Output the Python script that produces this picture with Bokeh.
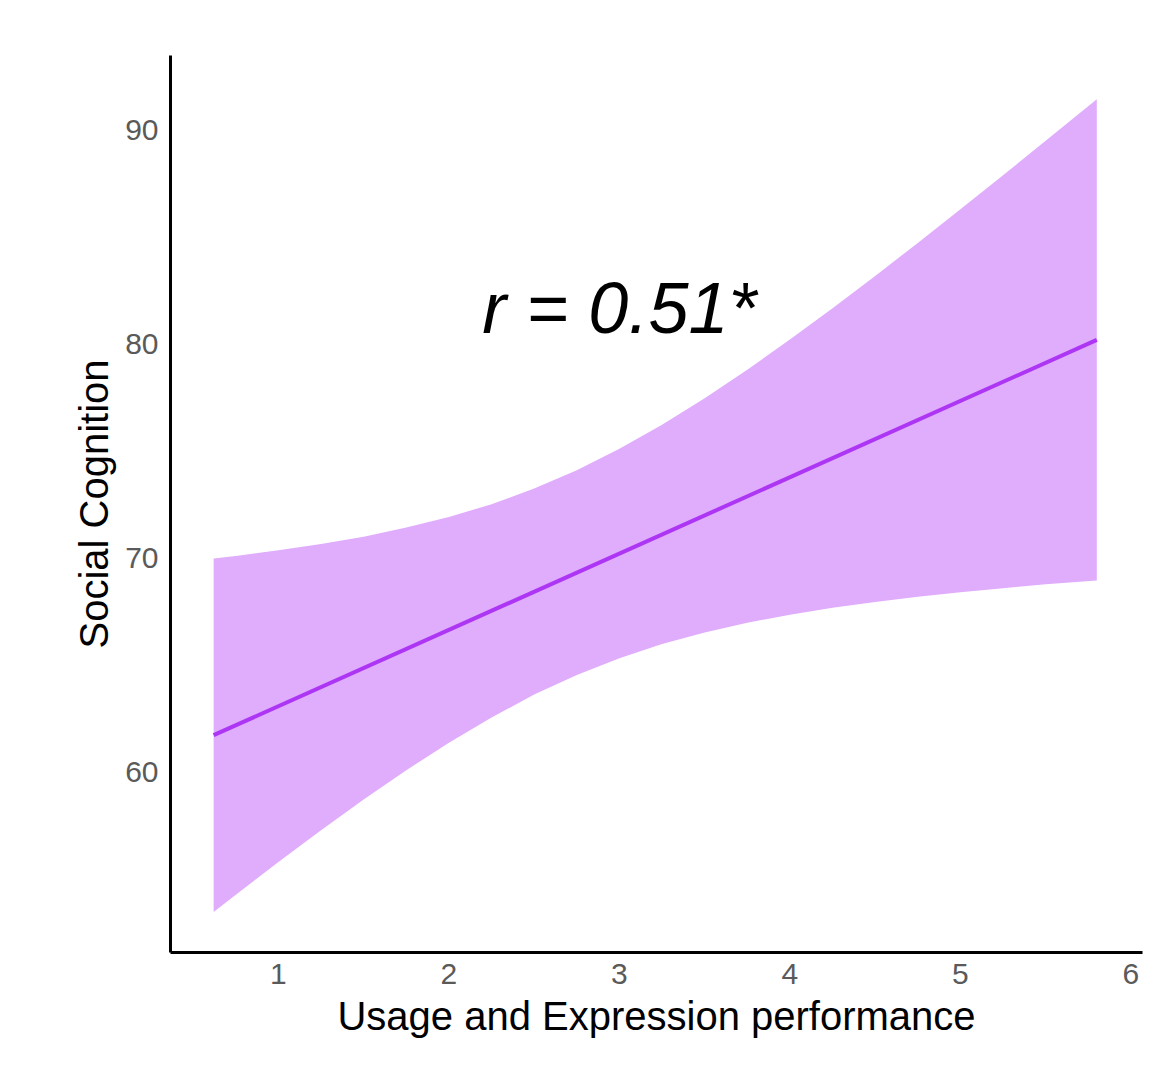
from bokeh.plotting import figure
from bokeh.models import Range1d, FixedTicker, ColumnDataSource
from bokeh.core.properties import value
from bokeh.embed import file_html
from bokeh.resources import INLINE

# Regression confidence band
band_x = [0.62, 0.75, 1.0, 1.25, 1.5, 1.75, 2.0, 2.25, 2.5, 2.75, 3.0, 3.25,
          3.5, 3.75, 4.0, 4.25, 4.5, 4.75, 5.0, 5.25, 5.5, 5.8]
band_upper = [69.97, 70.09, 70.35, 70.65, 70.99, 71.42, 71.91, 72.51, 73.24, 74.10, 75.10, 76.23,
              77.47, 78.80, 80.22, 81.68, 83.19, 84.74, 86.31, 87.90, 89.52, 91.46]
band_lower = [53.43, 54.23, 55.77, 57.25, 58.69, 60.06, 61.35, 62.53, 63.60, 64.52, 65.30, 65.97,
              66.51, 66.96, 67.34, 67.66, 67.93, 68.18, 68.39, 68.58, 68.76, 68.94]

# Fitted line end points
fit_x = [0.62, 5.8]
fit_y = [61.7, 80.2]

x_ticks = [1, 2, 3, 4, 5, 6]
y_ticks = [60, 70, 80, 90]

annotation_text = ["r = 0.51*"]
annotation_x = [3.0]
annotation_y = [81.7]

x_title = "Usage and Expression performance"
y_title = "Social Cognition"

p = figure(width=1167, height=1082, output_backend="svg", toolbar_location=None,
           x_range=Range1d(0.367, 6.068), y_range=Range1d(51.53, 93.51),
           min_border_left=170, min_border_right=25, min_border_top=55, min_border_bottom=130)

p.background_fill_color = "white"
p.border_fill_color = "white"
p.outline_line_color = None
p.grid.grid_line_color = None

band_src = ColumnDataSource(dict(x=band_x, upper=band_upper, lower=band_lower))
p.varea(x="x", y1="lower", y2="upper", source=band_src, fill_color="#E0ACFC", fill_alpha=1.0)
p.line(fit_x, fit_y, line_color="#AD36F5", line_width=4)

p.text(x=annotation_x, y=annotation_y, text=annotation_text,
       text_font=value("Liberation Sans"), text_font_style="italic",
       text_font_size="72px", text_color="black",
       text_align="center", text_baseline="alphabetic")

for ax in (p.xaxis[0], p.yaxis[0]):
    ax.axis_line_color = "black"
    ax.axis_line_width = 3
    ax.major_tick_line_color = None
    ax.minor_tick_line_color = None
    ax.major_tick_out = 0
    ax.major_tick_in = 0
    ax.major_label_text_font = "Liberation Sans"
    ax.major_label_text_font_size = "30px"
    ax.major_label_text_color = "#5a5a5a"
    ax.axis_label_text_font = "Liberation Sans"
    ax.axis_label_text_font_size = "40px"
    ax.axis_label_text_font_style = "normal"
    ax.axis_label_text_color = "black"

p.xaxis[0].ticker = FixedTicker(ticks=x_ticks)
p.yaxis[0].ticker = FixedTicker(ticks=y_ticks)
p.xaxis[0].axis_label = x_title
p.yaxis[0].axis_label = y_title
p.xaxis[0].major_label_standoff = 11
p.yaxis[0].major_label_standoff = 12
p.xaxis[0].axis_label_standoff = 7
p.yaxis[0].axis_label_standoff = 6

open("out.html", "w").write(file_html(p, INLINE))
